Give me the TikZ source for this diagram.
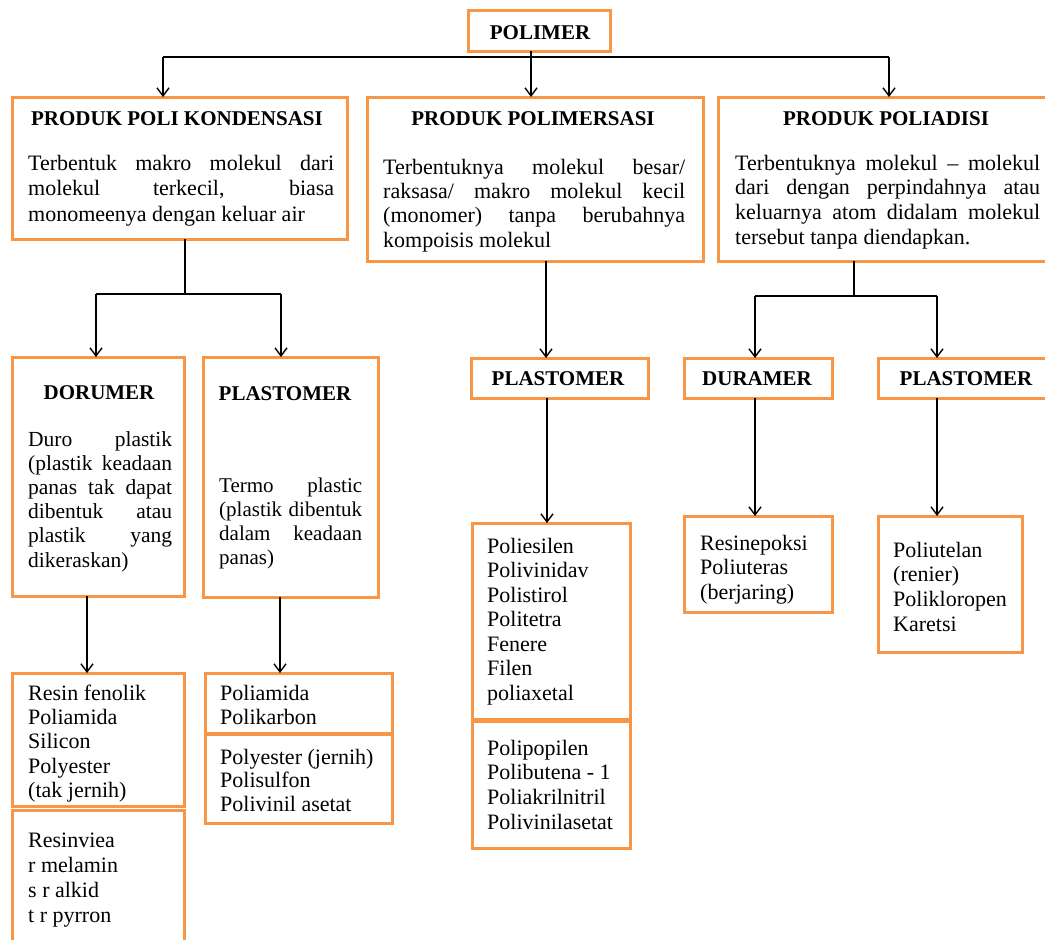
\documentclass[tikz,border=0pt]{standalone}
\usepackage{fontspec}
\setmainfont{Liberation Serif}
\usetikzlibrary{arrows.meta}
\definecolor{bord}{RGB}{247,150,70}
\newcommand{\jline}[2]{\makebox[#1pt][s]{#2}}
\begin{document}
\begin{tikzpicture}[x=1pt,y=-1pt,
  obox/.style={draw=bord, line width=3pt, fill=white, inner sep=0pt, outer sep=0pt, anchor=north west},
  conn/.style={line width=1.4pt, black},
  arr/.style={conn, -{Straight Barb[length=8pt,width=12pt,line width=1.4pt]}},
  ttl/.style={font=\fontsize{21}{24}\selectfont\bfseries, inner sep=0pt, anchor=base},
  body/.style 2 args={font=\fontsize{#1}{#2}\selectfont, inner sep=0pt, anchor=north west, align=left}]
\useasboundingbox (0,0) rectangle (1045,940);
\fill[white] (0,0) rectangle (1045,940);

% boxes
\node[obox, minimum width=142pt, minimum height=41pt] (pol) at (468,10) {};
\node[obox, minimum width=335pt, minimum height=142pt] (b1) at (12,97) {};
\node[obox, minimum width=336pt, minimum height=164pt] (b2) at (367,97) {};
\node[obox, minimum width=340pt, minimum height=164pt] (b3) at (718,97) {};
\node[obox, minimum width=172pt, minimum height=239pt] (dor) at (12,357) {};
\node[obox, minimum width=175pt, minimum height=240pt] (plL) at (203,357) {};
\node[obox, minimum width=177pt, minimum height=40pt] (plC) at (471,358) {};
\node[obox, minimum width=148pt, minimum height=40pt] (dur) at (684,358) {};
\node[obox, minimum width=180pt, minimum height=40pt] (plR) at (878,358) {};
\node[obox, minimum width=158pt, minimum height=196pt] (l1a) at (472,523) {};
\node[obox, minimum width=158pt, minimum height=127pt] (l1b) at (472,721) {};
\node[obox, minimum width=148pt, minimum height=96pt] (l2) at (684,516) {};
\node[obox, minimum width=144pt, minimum height=136pt] (l3) at (878,516) {};
\node[obox, minimum width=172pt, minimum height=133pt] (l4a) at (12,673) {};
\node[obox, minimum width=172pt, minimum height=150pt] (l4b) at (12,810) {};
\node[obox, minimum width=187pt, minimum height=60pt] (l5a) at (205,673) {};
\node[obox, minimum width=187pt, minimum height=89pt] (l5b) at (205,734) {};

% titles
\node[ttl] (tpol) at (540,39) {POLIMER};
\node[ttl] (t1) at (177,125) {PRODUK POLI KONDENSASI};
\node[ttl] (t2) at (533,125) {PRODUK POLIMERSASI};
\node[ttl] (t3) at (886,125) {PRODUK POLIADISI};
\node[ttl] (tdor) at (99,399) {DORUMER};
\node[ttl] (tplL) at (285,400) {PLASTOMER};
\node[ttl] (tplC) at (558,385) {PLASTOMER};
\node[ttl] (tdur) at (757,385) {DURAMER};
\node[ttl] (tplR) at (966,385) {PLASTOMER};

% body texts
\node[body={22}{25.5}] (d1) at (28,152) {\strut\jline{306}{Terbentuk makro molekul dari}\\
  \jline{306}{molekul terkecil, biasa}\\
  monomeenya dengan keluar air};
\node[body={22}{24.3}] (d2) at (383,157) {\strut\jline{302}{Terbentuknya molekul besar/}\\
  \jline{302}{raksasa/ makro molekul kecil}\\
  \jline{302}{(monomer) tanpa berubahnya}\\
  kompoisis molekul};
\node[body={22}{24.7}] (d3) at (735,152.7) {\strut\jline{305}{Terbentuknya molekul – molekul}\\
  \jline{305}{dari dengan perpindahnya atau}\\
  \jline{305}{keluarnya atom didalam molekul}\\
  tersebut tanpa diendapkan.};
\node[body={21.5}{24.2}] (ddor) at (28,429) {\strut\jline{144}{Duro plastik}\\
  \jline{144}{(plastik keadaan}\\
  \jline{144}{panas tak dapat}\\
  \jline{144}{dibentuk atau}\\
  \jline{144}{plastik yang}\\
  dikeraskan)};
\node[body={21}{24}] (dplL) at (219,475) {\strut\jline{143}{Termo plastic}\\
  \jline{143}{(plastik dibentuk}\\
  \jline{143}{dalam keadaan}\\
  panas)};
\node[body={22}{24.5}] (dl1a) at (487,536) {\strut Poliesilen\\ Polivinidav\\ Polistirol\\ Politetra\\ Fenere\\ Filen\\ poliaxetal};
\node[body={22}{24.7}] (dl1b) at (487,737.7) {\strut Polipopilen\\ Polibutena - 1\\ Poliakrilnitril\\ Polivinilasetat};
\node[body={22}{24.5}] (dl2) at (700,533) {\strut Resinepoksi\\ Poliuteras\\ (berjaring)};
\node[body={22}{24.7}] (dl3) at (893,539.7) {\strut Poliutelan\\ (renier)\\ Polikloropen\\ Karetsi};
\node[body={22}{24.3}] (dl4a) at (28,683) {\strut Resin fenolik\\ Poliamida\\ Silicon\\ Polyester\\ (tak jernih)};
\node[body={22}{25}] (dl4b) at (28,829.5) {\strut Resinviea\\ r melamin\\ s r alkid\\ t r pyrron};
\node[body={22}{24}] (dl5a) at (220,683.2) {\strut Poliamida\\ Polikarbon};
\node[body={22}{23.5}] (dl5b) at (220,747.5) {\strut Polyester (jernih)\\ Polisulfon\\ Polivinil asetat};

% junction coordinates
\coordinate (jtop) at (531,57);
\coordinate (jL) at (163,57);
\coordinate (jR) at (889,57);
\coordinate (k1) at (185,294);
\coordinate (k1L) at (96,294);
\coordinate (k1R) at (281,294);
\coordinate (k2) at (546,300);
\coordinate (k3) at (854,296);
\coordinate (k3L) at (755,296);
\coordinate (k3R) at (937,296);
\coordinate (m1) at (87,600);
\coordinate (m2) at (280,600);
\coordinate (m3) at (547,450);
\coordinate (m4) at (755,450);
\coordinate (m5) at (937,450);

% connectors
\draw[conn] (jL) -- (jR);
\draw[arr] (pol.south -| jtop) -- (jtop |- b2.north);
\draw[arr] (jL) -- (jL |- b1.north);
\draw[arr] (jR) -- (jR |- b3.north);

\draw[conn] (b1.south -| k1) -- (k1);
\draw[conn] (k1L) -- (k1R);
\draw[arr] (k1L) -- (k1L |- dor.north);
\draw[arr] (k1R) -- (k1R |- plL.north);

\draw[arr] (b2.south -| k2) -- (k2 |- plC.north);

\draw[conn] (b3.south -| k3) -- (k3);
\draw[conn] (k3L) -- (k3R);
\draw[arr] (k3L) -- (k3L |- dur.north);
\draw[arr] (k3R) -- (k3R |- plR.north);

\draw[arr] (dor.south -| m1) -- (m1 |- l4a.north);
\draw[arr] (plL.south -| m2) -- (m2 |- l5a.north);
\draw[arr] (plC.south -| m3) -- (m3 |- l1a.north);
\draw[arr] (dur.south -| m4) -- (m4 |- l2.north);
\draw[arr] (plR.south -| m5) -- (m5 |- l3.north);
\end{tikzpicture}
\end{document}
